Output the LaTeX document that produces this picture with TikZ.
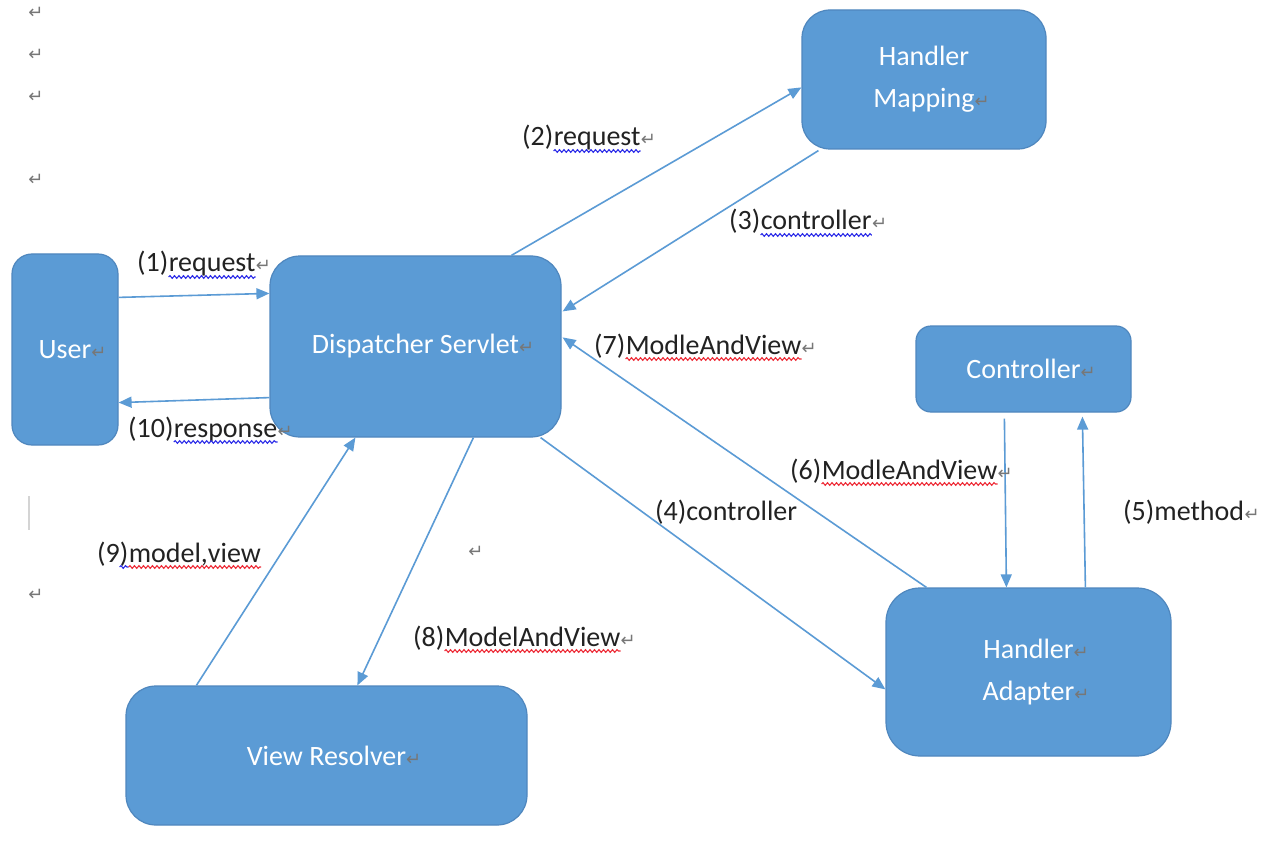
\documentclass[tikz,border=0pt]{standalone}
\usepackage{fontspec}
\setmainfont{Carlito}
\newfontfamily\retfont{DejaVu Sans}
\usetikzlibrary{arrows.meta,calc,decorations.pathmorphing}
\definecolor{boxfill}{HTML}{5B9BD5}
\definecolor{boxline}{HTML}{4F87BE}
\definecolor{arrowblue}{HTML}{5B9BD5}
\definecolor{retgray}{HTML}{777777}
\definecolor{inktext}{HTML}{222222}
\definecolor{spellred}{HTML}{EE2A36}
\definecolor{grammarblue}{HTML}{2B2BE8}
\definecolor{cursorgray}{HTML}{D4D4D4}
% paragraph mark
\newcommand\retmark{{\retfont\fontsize{18}{18}\selectfont\color{retgray}\char"21B5}}

\begin{document}
\begin{tikzpicture}[x=1pt,y=-1pt,
  box/.style={draw=boxline, line width=1.2pt, fill=boxfill, rounded corners=#1,
    text=white, font=\fontsize{28}{42}\selectfont, align=center, inner sep=0pt},
  box/.default=28pt,
  arr/.style={draw=arrowblue, line width=1.6pt, -{Triangle[length=13pt,width=11pt]}},
  lbl/.style={inner sep=0pt, anchor=base west, text=inktext, font=\fontsize{28}{34}\selectfont},
  parmark/.style={inner sep=0pt},
  wavy/.style={draw=#1, line width=1.1pt, decorate,
    decoration={snake, amplitude=1.3pt, segment length=4.5pt}},
]
\useasboundingbox[fill=white] (0,0) rectangle (1284,850);

% ---- boxes
\node[box=20pt, minimum width=106pt, minimum height=191pt] (user) at (65,349.5) {User\rlap{\retmark}};
\node[box=30pt, minimum width=291pt, minimum height=181pt] (ds) at (415.5,346.5) {Dispatcher Servlet\rlap{\retmark}};
\node[box=28pt, minimum width=244pt, minimum height=139pt] (hm) at (924,79.5) {Handler\\Mapping\rlap{\retmark}};
\node[box=15pt, minimum width=215pt, minimum height=86pt] (ctl) at (1023.5,369) {Controller\rlap{\retmark}};
\node[box=34pt, minimum width=285pt, minimum height=168pt] (ha) at (1028.5,672) {Handler\rlap{\retmark}\\Adapter\rlap{\retmark}};
\node[box=30pt, minimum width=401pt, minimum height=139pt] (vr) at (326.5,755.5) {View Resolver\rlap{\retmark}};

% ---- connectors
\draw[arr] ($(user.north east)+(0,44)$) -- ($(ds.north west)+(0,38)$);
\draw[arr] ($(ds.south west)+(0,-40)$) -- ($(user.south east)+(0,-43)$);
\draw[arr] ($(ds.north west)+(242,0)$) -- ($(hm.north west)+(0,78)$);
\draw[arr] ($(hm.south west)+(17,1)$) -- ($(ds.north east)+(1,56)$);
\draw[arr] ($(ha.north west)+(41,0)$) -- ($(ds.north east)+(1,82)$);
\draw[arr] ($(ds.south east)+(-21,0)$) -- ($(ha.north west)+(0,102)$);
\draw[arr] ($(ctl.south west)+(89,6)$) -- ($(ha.north west)+(121,0)$);
\draw[arr] ($(ha.north west)+(200,0)$) -- ($(ctl.south west)+(167,4)$);
\draw[arr] ($(ds.south west)+(204,0)$) -- ($(vr.north west)+(232,0)$);
\draw[arr] ($(vr.north west)+(71,0)$) -- ($(ds.south west)+(86,0)$);

% ---- labels
\node[lbl] (n1) at (137,272) {(1)};
\node[lbl] (w1) at (n1.base east) {request};
\node[lbl] (r1) at (w1.base east) {\retmark};
\draw[wavy=grammarblue] ($(w1.base west)+(0,5)$) -- ($(w1.base east)+(0,5)$);

\node[lbl] (n10) at (128,437) {(10)};
\node[lbl] (w10) at (n10.base east) {response};
\node[lbl] (r10) at (w10.base east) {\retmark};
\draw[wavy=grammarblue] ($(w10.base west)+(0,5)$) -- ($(w10.base east)+(0,5)$);

\node[lbl] (n2) at (522,146) {(2)};
\node[lbl] (w2) at (n2.base east) {request};
\node[lbl] (r2) at (w2.base east) {\retmark};
\draw[wavy=grammarblue] ($(w2.base west)+(0,5)$) -- ($(w2.base east)+(0,5)$);

\node[lbl] (n3) at (729,230) {(3)};
\node[lbl] (w3) at (n3.base east) {controller};
\node[lbl] (r3) at (w3.base east) {\retmark};
\draw[wavy=grammarblue] ($(w3.base west)+(0,5)$) -- ($(w3.base east)+(0,5)$);

\node[lbl] (n7) at (594,354) {(7)};
\node[lbl] (w7) at (n7.base east) {ModleAndView};
\node[lbl] (r7) at (w7.base east) {\retmark};
\draw[wavy=spellred] ($(w7.base west)+(0,5)$) -- ($(w7.base east)+(0,5)$);

\node[lbl] (n6) at (790,479) {(6)};
\node[lbl] (w6) at (n6.base east) {ModleAndView};
\node[lbl] (r6) at (w6.base east) {\retmark};
\draw[wavy=spellred] ($(w6.base west)+(0,5)$) -- ($(w6.base east)+(0,5)$);

\node[lbl] (n4) at (655,520) {(4)controller};

\node[lbl] (n5) at (1123,520) {(5)method};
\node[lbl] (r5) at (n5.base east) {\retmark};

\node[lbl] (n9) at (97,562) {(9)};
\node[lbl] (w9) at (n9.base east) {model,view};
\draw[wavy=grammarblue] ($(n9.base east)+(-9,5)$) -- ($(w9.base west)+(0,5)$);
\draw[wavy=spellred] ($(w9.base west)+(0,5)$) -- ($(w9.base east)+(0,5)$);

\node[lbl] (n8) at (413,646) {(8)};
\node[lbl] (w8) at (n8.base east) {ModelAndView};
\node[lbl] (r8) at (w8.base east) {\retmark};
\draw[wavy=spellred] ($(w8.base west)+(0,5)$) -- ($(w8.base east)+(0,5)$);

% ---- loose paragraph marks and the text cursor
\node[parmark] (m1) at (36,13) {\retmark};
\node[parmark] (m2) at (36,55) {\retmark};
\node[parmark] (m3) at (36,97) {\retmark};
\node[parmark] (m4) at (36,180) {\retmark};
\node[parmark] (m5) at (36,595) {\retmark};
\node[parmark] (m6) at (476,552) {\retmark};
\draw[cursorgray, line width=1.6pt] (29,496) -- (29,530);
\end{tikzpicture}
\end{document}
